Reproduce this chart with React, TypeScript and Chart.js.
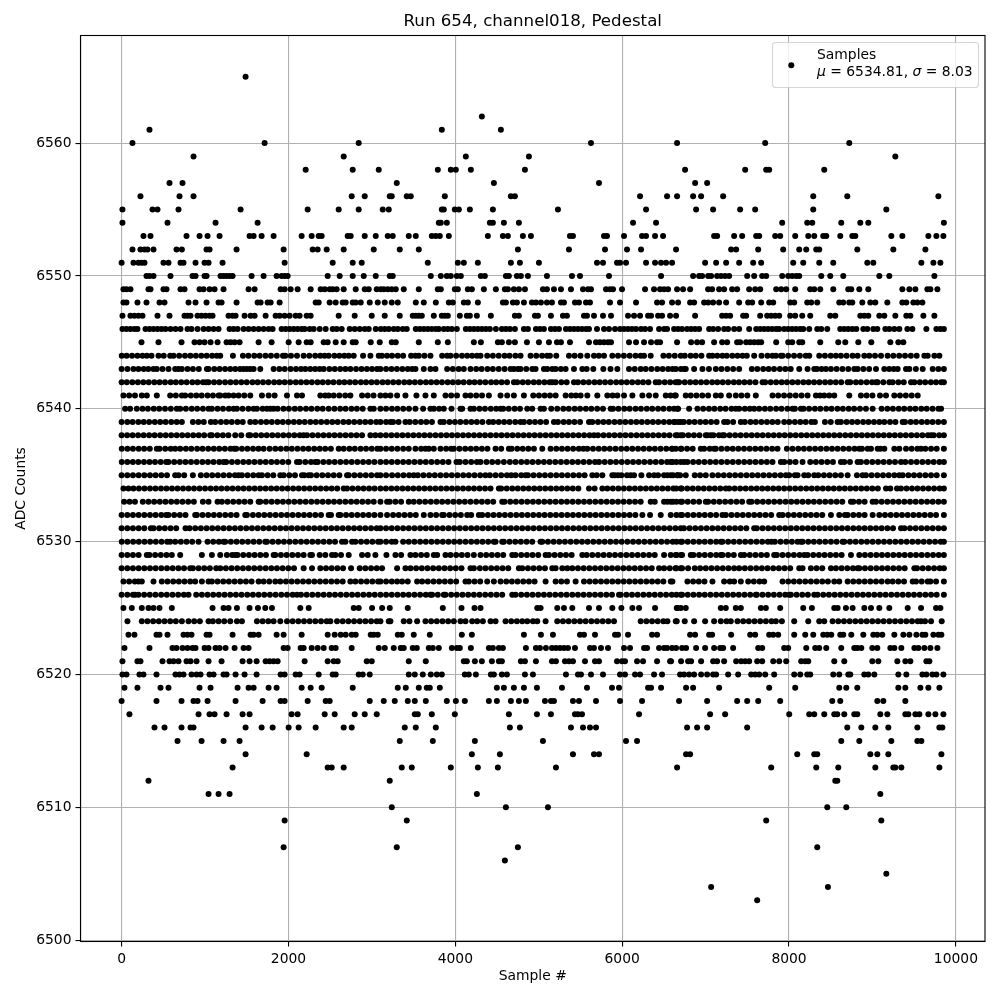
import React, { useEffect, useRef } from "react";
import { Chart, registerables } from "chart.js";

Chart.register(...registerables);

const titleText = "Run 654, channel018, Pedestal";
const xAxisLabel = "Sample #";
const yAxisLabel = "ADC Counts";
const legendName = "Samples";
const xTicks = [0, 2000, 4000, 6000, 8000, 10000];
const yTicks = [6500, 6510, 6520, 6530, 6540, 6550, 6560];

const a6565 = [1486];
const a6562 = [4318];
const a6561 = [334, 3838, 4546];
const a6560 = [130, 1714, 2842, 5626, 6658, 7714, 8722];
const a6559 = [862, 2662, 4126, 4882, 9274];
const a6558 = [2206, 2770, 3082, 3790, 3946, 4006, 4186, 4834, 6754, 7474, 7726, 7762, 8422];
const a6557 = [574, 730, 3298, 4462, 5722, 6874, 7018];
const a6556 = [226, 694, 862, 2758, 2914, 3214, 3238, 3418, 3466, 3874, 4666, 4714, 6214, 6538, 6658, 6850, 6946, 7210, 8290, 8698, 9790];
const a6555 = [10, 370, 430, 682, 1426, 2230, 2602, 2842, 3130, 3202, 3838, 3862, 3994, 4042, 4174, 4450, 5230, 6286, 6886, 7090, 7414, 7594, 8290, 9166];
const a6554 = [10, 550, 1126, 1630, 3802, 3826, 3898, 4414, 4450, 4582, 4762, 6130, 6406, 7918, 8218, 8278, 8626, 8854, 8950, 9856];
const a6553 = [262, 346, 778, 934, 1030, 1174, 1534, 1582, 1678, 1822, 2158, 2278, 2362, 2398, 2710, 2746, 2914, 3046, 3190, 3250, 3442, 3526, 3718, 3766, 3814, 3922, 4390, 4570, 4630, 4810, 4906, 5374, 5410, 5782, 5818, 6022, 6238, 6286, 6394, 6490, 7102, 7138, 7342, 7438, 7606, 7642, 7834, 7894, 8074, 8230, 8302, 8410, 8446, 8614, 8758, 8794, 9226, 9358, 9670, 9766, 9850];
const a6552 = [130, 226, 274, 310, 382, 658, 722, 1018, 1054, 1378, 1942, 2290, 2350, 2458, 2662, 3022, 3334, 3562, 4750, 5362, 5794, 6058, 6226, 6646, 7306, 7366, 7630, 7930, 8122, 8206, 8326, 8362, 8818, 9250, 9634];
const a6551 = [0, 142, 202, 238, 274, 502, 562, 706, 742, 886, 994, 1042, 1210, 1954, 2530, 2770, 2878, 3670, 4030, 4102, 4270, 4666, 4774, 5002, 5698, 5770, 5938, 5974, 6046, 6286, 6394, 6466, 6526, 6598, 6994, 7126, 7246, 7402, 7570, 7666, 8050, 8170, 8362, 8530, 8938, 9010, 9586, 9730, 9814];
const a6550 = [298, 334, 382, 586, 850, 886, 994, 1018, 1186, 1222, 1258, 1294, 1330, 1558, 1702, 1858, 1918, 1954, 1990, 2470, 2614, 2770, 2902, 3046, 3214, 3250, 3706, 3826, 3898, 3946, 4018, 4066, 4306, 4354, 4606, 4642, 4738, 4786, 4870, 5098, 5398, 5494, 5842, 6466, 6850, 6922, 6958, 7030, 7066, 7138, 7186, 7234, 7282, 7498, 7582, 7678, 7726, 7918, 7990, 8038, 8086, 8122, 8386, 8494, 8650, 9082, 9202, 9742];
const a6549 = [22, 58, 106, 322, 346, 502, 538, 706, 754, 934, 982, 1054, 1114, 1222, 1522, 1594, 1906, 1954, 2026, 2110, 2266, 2386, 2434, 2494, 2530, 2578, 2662, 2806, 2914, 2962, 3058, 3106, 3142, 3190, 3238, 3286, 3382, 3562, 3790, 3826, 3994, 4030, 4150, 4198, 4342, 4486, 4594, 4630, 4702, 4762, 4834, 5050, 5098, 5182, 5266, 5386, 5530, 5590, 5626, 5806, 5854, 5890, 5998, 6274, 6382, 6454, 6502, 6550, 6658, 6730, 6814, 7030, 7078, 7162, 7222, 7318, 7378, 7522, 7594, 7654, 7846, 7906, 7966, 8074, 8254, 8302, 8374, 8530, 8710, 8746, 8842, 8950, 9358, 9442, 9514, 9658, 9694, 9778];
const a6548 = [22, 58, 190, 298, 454, 514, 802, 886, 1018, 1162, 1198, 1378, 1630, 1666, 1750, 1786, 1894, 2326, 2362, 2494, 2566, 2650, 2686, 2770, 2806, 2866, 2974, 3070, 3154, 3238, 3310, 3526, 3622, 3766, 3922, 3970, 4102, 4150, 4270, 4570, 4606, 4690, 4738, 4822, 4918, 4966, 5026, 5098, 5158, 5266, 5302, 5434, 5482, 5566, 5614, 5854, 5974, 6166, 6418, 6478, 6598, 6670, 6814, 6862, 6982, 7030, 7090, 7162, 7246, 7402, 7510, 7558, 7666, 7762, 7810, 8014, 8062, 8218, 8266, 8338, 8602, 8650, 8722, 8758, 8878, 8974, 9034, 9178, 9358, 9406, 9490, 9538, 9598];
const a6547 = [10, 106, 154, 202, 250, 430, 574, 754, 790, 826, 910, 958, 1006, 1054, 1090, 1282, 1330, 1366, 1474, 1546, 1594, 1726, 1846, 1894, 1954, 2014, 2086, 2134, 2218, 2266, 2602, 2794, 2998, 3154, 3334, 3490, 3526, 3562, 3598, 3742, 3838, 3874, 3910, 4054, 4138, 4174, 4258, 4426, 4714, 4762, 4954, 4990, 5146, 5290, 5338, 5542, 5578, 5662, 5770, 5866, 6070, 6142, 6214, 6310, 6346, 6430, 6478, 6574, 6646, 6874, 7198, 7246, 7294, 7450, 7486, 7654, 7738, 7786, 7834, 7882, 8014, 8074, 8158, 8254, 8494, 8554, 8854, 8902, 8950, 9082, 9142, 9274, 9406, 9454, 9610, 9742];
const a6546 = [10, 58, 106, 154, 190, 286, 334, 382, 430, 478, 526, 586, 646, 706, 790, 838, 910, 982, 1042, 1102, 1162, 1294, 1342, 1390, 1462, 1522, 1582, 1642, 1702, 1762, 1810, 1918, 1966, 2014, 2062, 2110, 2158, 2194, 2254, 2302, 2374, 2446, 2530, 2578, 2638, 2734, 2794, 2854, 2914, 2962, 3046, 3106, 3154, 3202, 3262, 3310, 3370, 3418, 3526, 3574, 3622, 3670, 3718, 3766, 3802, 3862, 3910, 3958, 4018, 4126, 4174, 4222, 4270, 4318, 4366, 4414, 4486, 4558, 4606, 4654, 4714, 4822, 4870, 4966, 5014, 5062, 5146, 5194, 5242, 5326, 5374, 5422, 5470, 5518, 5566, 5602, 5698, 5782, 5842, 5914, 5974, 6022, 6070, 6118, 6166, 6226, 6274, 6334, 6442, 6502, 6538, 6622, 6670, 6718, 6778, 6826, 6874, 6922, 7042, 7090, 7150, 7222, 7270, 7342, 7402, 7522, 7606, 7654, 7702, 7750, 7798, 7846, 7882, 7942, 7990, 8038, 8086, 8134, 8170, 8242, 8338, 8386, 8458, 8614, 8662, 8710, 8758, 8806, 8890, 8938, 9010, 9058, 9154, 9202, 9262, 9322, 9418, 9478, 9646, 9766, 9814, 9856];
const a6545 = [238, 442, 718, 874, 934, 994, 1066, 1150, 1258, 1306, 1354, 1414, 1642, 1798, 2002, 2122, 2218, 2266, 2422, 2470, 2566, 2662, 2770, 2806, 2986, 3094, 3238, 3286, 3562, 3790, 3910, 4222, 4306, 4510, 4558, 4642, 4714, 4858, 5002, 5122, 5218, 5266, 5374, 5602, 5686, 5734, 5782, 5830, 5866, 6082, 6166, 6262, 6346, 6418, 6454, 6658, 6826, 6898, 6958, 7102, 7198, 7258, 7378, 7414, 7486, 7534, 7582, 7630, 7666, 7846, 7990, 8038, 8122, 8158, 8374, 8590, 8674, 8830, 8986, 9214, 9310, 9370];
const a6544 = [2, 60, 125, 190, 250, 302, 358, 442, 505, 582, 622, 690, 760, 825, 890, 955, 1020, 1085, 1140, 1182, 1334, 1454, 1520, 1590, 1655, 1725, 1790, 1860, 1934, 1962, 2030, 2102, 2182, 2250, 2320, 2382, 2434, 2482, 2550, 2610, 2670, 2722, 2782, 2894, 2982, 3082, 3120, 3182, 3242, 3310, 3374, 3470, 3522, 3562, 3630, 3702, 3842, 3902, 3942, 4010, 4080, 4142, 4202, 4260, 4302, 4382, 4450, 4520, 4590, 4650, 4720, 4782, 4902, 4970, 5040, 5100, 5134, 5210, 5362, 5430, 5500, 5582, 5662, 5720, 5782, 5882, 5950, 6020, 6090, 6160, 6222, 6262, 6342, 6494, 6560, 6630, 6702, 6750, 6820, 6882, 6950, 7042, 7082, 7140, 7202, 7254, 7320, 7382, 7442, 7494, 7582, 7670, 7742, 7802, 7842, 7902, 7922, 7990, 8060, 8130, 8200, 8242, 8362, 8430, 8500, 8562, 8622, 8690, 8762, 8822, 8902, 8962, 9030, 9102, 9182, 9250, 9320, 9390, 9460, 9530, 9622, 9662, 9742, 9802];
const a6543 = [0, 70, 142, 202, 265, 320, 382, 422, 490, 562, 642, 682, 722, 790, 855, 925, 1022, 1042, 1110, 1175, 1240, 1302, 1362, 1420, 1462, 1502, 1542, 1582, 1662, 1822, 1890, 1955, 2025, 2090, 2150, 2202, 2262, 2320, 2374, 2422, 2490, 2555, 2620, 2682, 2742, 2810, 2875, 2940, 3002, 3062, 3102, 3170, 3235, 3300, 3365, 3430, 3482, 3522, 3622, 3702, 3762, 3902, 3970, 4040, 4102, 4182, 4250, 4315, 4385, 4450, 4520, 4590, 4662, 4702, 4750, 4782, 4850, 4922, 4962, 5062, 5102, 5162, 5202, 5265, 5322, 5422, 5522, 5574, 5654, 5774, 5860, 5942, 6082, 6150, 6222, 6282, 6350, 6420, 6485, 6550, 6602, 6642, 6702, 6742, 6762, 6862, 6962, 7040, 7122, 7190, 7260, 7330, 7402, 7554, 7620, 7690, 7755, 7820, 7890, 7955, 8020, 8122, 8222, 8302, 8334, 8390, 8442, 8502, 8570, 8640, 8710, 8782, 8822, 8890, 8960, 9042, 9142, 9200, 9254, 9302, 9402, 9442, 9520, 9602, 9722, 9790, 9856];
const a6542 = [0, 62, 128, 195, 260, 325, 392, 455, 520, 588, 650, 715, 780, 848, 910, 975, 1014, 1042, 1108, 1172, 1240, 1305, 1370, 1435, 1500, 1568, 1630, 1695, 1760, 1828, 1890, 1955, 2020, 2088, 2150, 2215, 2280, 2348, 2410, 2475, 2540, 2608, 2670, 2735, 2800, 2868, 2930, 2995, 3060, 3128, 3190, 3255, 3320, 3388, 3450, 3515, 3580, 3648, 3710, 3775, 3840, 3908, 3970, 4035, 4100, 4168, 4230, 4295, 4360, 4428, 4490, 4555, 4620, 4702, 4742, 4808, 4872, 4940, 5002, 5068, 5130, 5162, 5202, 5270, 5335, 5422, 5470, 5535, 5600, 5668, 5730, 5795, 5860, 5928, 5990, 6055, 6120, 6188, 6250, 6315, 6402, 6442, 6510, 6575, 6640, 6662, 6682, 6750, 6815, 6880, 6945, 7010, 7078, 7140, 7205, 7270, 7338, 7400, 7465, 7530, 7598, 7682, 7714, 7780, 7845, 7912, 7975, 8040, 8105, 8172, 8235, 8300, 8365, 8432, 8495, 8560, 8625, 8702, 8734, 8802, 8862, 8930, 8995, 9042, 9062, 9130, 9202, 9242, 9310, 9375, 9462, 9502, 9568, 9632, 9700, 9762, 9825, 9856];
const a6541 = [22, 90, 160, 242, 302, 422, 582, 650, 722, 762, 830, 895, 960, 1030, 1095, 1162, 1182, 1242, 1282, 1342, 1402, 1470, 1542, 1682, 1762, 1834, 1982, 2102, 2162, 2382, 2440, 2482, 2542, 2610, 2680, 2742, 2882, 2950, 3020, 3102, 3162, 3222, 3302, 3402, 3534, 3642, 3742, 3882, 3950, 4020, 4122, 4182, 4250, 4320, 4402, 4542, 4622, 4702, 4822, 4934, 5002, 5070, 5135, 5202, 5322, 5390, 5445, 5502, 5582, 5702, 5822, 5885, 5942, 6022, 6122, 6242, 6322, 6402, 6522, 6580, 6642, 6630, 6762, 6822, 6890, 6960, 7030, 7122, 7182, 7282, 7362, 7430, 7500, 7602, 7802, 7870, 7940, 8010, 8080, 8150, 8222, 8322, 8372, 8422, 8482, 8542, 8722, 8862, 8930, 9000, 9090, 9162, 9262, 9330, 9400, 9470, 9542];
const a6540 = [42, 102, 182, 250, 315, 385, 450, 520, 590, 662, 702, 770, 840, 905, 975, 1042, 1082, 1150, 1215, 1285, 1342, 1382, 1450, 1520, 1582, 1622, 1690, 1742, 1782, 1822, 1870, 1940, 2005, 2075, 2140, 2210, 2275, 2345, 2410, 2482, 2550, 2620, 2685, 2755, 2820, 2890, 2982, 3022, 3102, 3170, 3240, 3305, 3375, 3445, 3522, 3614, 3702, 3742, 3805, 3862, 3954, 4062, 4082, 4182, 4222, 4290, 4355, 4425, 4490, 4542, 4574, 4640, 4710, 4775, 4862, 4922, 5022, 5062, 5150, 5222, 5294, 5360, 5430, 5495, 5565, 5630, 5700, 5770, 5862, 5890, 5955, 6025, 6090, 6160, 6225, 6295, 6360, 6430, 6495, 6565, 6622, 6662, 6670, 6802, 6902, 6970, 7040, 7105, 7175, 7240, 7310, 7362, 7402, 7470, 7530, 7582, 7642, 7710, 7775, 7845, 7910, 7980, 8042, 8070, 8142, 8174, 8240, 8310, 8375, 8445, 8510, 8580, 8645, 8715, 8780, 8850, 8922, 9002, 9110, 9178, 9245, 9315, 9380, 9450, 9515, 9585, 9650, 9720, 9790, 9822];
const a6539 = [0, 68, 132, 200, 265, 330, 398, 462, 528, 595, 660, 722, 854, 920, 985, 1070, 1122, 1190, 1255, 1320, 1388, 1452, 1542, 1602, 1670, 1735, 1800, 1868, 1932, 1998, 2065, 2130, 2195, 2262, 2328, 2392, 2460, 2525, 2590, 2658, 2722, 2788, 2855, 2920, 2985, 3052, 3102, 3170, 3222, 3254, 3320, 3402, 3454, 3520, 3588, 3652, 3720, 3822, 3862, 3930, 3995, 4060, 4128, 4192, 4258, 4325, 4402, 4454, 4520, 4585, 4650, 4718, 4782, 4822, 4890, 4955, 5020, 5088, 5182, 5230, 5298, 5362, 5428, 5495, 5602, 5642, 5710, 5775, 5840, 5908, 5972, 6038, 6105, 6170, 6235, 6302, 6368, 6432, 6500, 6565, 6630, 6702, 6622, 6670, 6738, 6802, 6868, 6935, 7000, 7065, 7132, 7222, 7262, 7330, 7422, 7470, 7538, 7602, 7668, 7735, 7800, 7865, 7942, 8002, 8070, 8135, 8200, 8268, 8310, 8430, 8500, 8582, 8622, 8690, 8755, 8820, 8888, 8952, 9018, 9082, 9142, 9210, 9275, 9362, 9390, 9458, 9522, 9590, 9655, 9720, 9788, 9856];
const a6538 = [0, 66, 132, 198, 264, 330, 396, 462, 528, 594, 660, 726, 792, 858, 924, 990, 1062, 1082, 1148, 1214, 1280, 1362, 1434, 1522, 1542, 1608, 1674, 1740, 1806, 1872, 1938, 2004, 2070, 2136, 2182, 2222, 2288, 2354, 2420, 2486, 2552, 2618, 2684, 2750, 2816, 2882, 2982, 3042, 3102, 3168, 3234, 3300, 3366, 3432, 3498, 3564, 3630, 3696, 3762, 3828, 3894, 3960, 4026, 4092, 4158, 4224, 4290, 4356, 4422, 4488, 4554, 4620, 4686, 4752, 4818, 4884, 4950, 5016, 5082, 5148, 5214, 5280, 5346, 5412, 5478, 5544, 5610, 5662, 5710, 5776, 5842, 5908, 5974, 6040, 6106, 6172, 6238, 6304, 6370, 6436, 6502, 6568, 6642, 6702, 6662, 6728, 6794, 6860, 6926, 7002, 7022, 7062, 7094, 7160, 7202, 7222, 7288, 7354, 7420, 7486, 7552, 7618, 7684, 7750, 7816, 7882, 7948, 8014, 8080, 8146, 8212, 8278, 8344, 8410, 8476, 8542, 8608, 8674, 8740, 8806, 8872, 8938, 9004, 9070, 9136, 9202, 9268, 9334, 9400, 9466, 9532, 9598, 9664, 9702, 9734, 9800, 9856];
const a6537 = [2, 70, 136, 205, 270, 338, 422, 454, 522, 588, 642, 702, 770, 835, 905, 970, 1038, 1105, 1170, 1238, 1305, 1350, 1374, 1442, 1508, 1575, 1640, 1702, 1774, 1842, 1908, 1975, 2040, 2108, 2175, 2240, 2308, 2375, 2440, 2508, 2602, 2662, 2730, 2795, 2865, 2930, 2998, 3065, 3102, 3170, 3238, 3305, 3375, 3442, 3522, 3590, 3642, 3682, 3742, 3822, 3890, 3950, 3982, 4050, 4118, 4185, 4250, 4318, 4385, 4482, 4550, 4642, 4674, 4742, 4808, 4875, 4942, 5042, 5142, 5210, 5278, 5345, 5412, 5480, 5534, 5582, 5650, 5718, 5785, 5852, 5920, 5988, 6055, 6122, 6190, 6258, 6325, 6392, 6460, 6528, 6595, 6602, 6702, 6642, 6710, 6778, 6845, 6942, 6982, 7050, 7102, 7122, 7190, 7258, 7325, 7392, 7460, 7528, 7595, 7662, 7730, 7798, 7862, 7974, 8042, 8110, 8178, 8245, 8312, 8380, 8448, 8515, 8582, 8650, 8718, 8785, 8842, 8874, 8942, 8982, 9062, 9094, 9142, 9262, 9322, 9402, 9470, 9538, 9582, 9634, 9702, 9770, 9856];
const a6536 = [2, 68, 135, 200, 268, 335, 400, 468, 534, 562, 630, 698, 765, 832, 900, 968, 1035, 1102, 1170, 1222, 1254, 1322, 1390, 1458, 1525, 1592, 1660, 1728, 1795, 1862, 1930, 1998, 2102, 2134, 2202, 2270, 2322, 2350, 2418, 2486, 2554, 2622, 2690, 2758, 2826, 2894, 2962, 3030, 3102, 3170, 3238, 3306, 3374, 3442, 3510, 3578, 3646, 3714, 3782, 3850, 3918, 4014, 4054, 4122, 4190, 4258, 4302, 4374, 4442, 4510, 4582, 4654, 4722, 4790, 4858, 4926, 4994, 5062, 5130, 5198, 5266, 5334, 5402, 5470, 5538, 5606, 5674, 5722, 5790, 5858, 5926, 5994, 6062, 6130, 6198, 6266, 6334, 6402, 6470, 6538, 6606, 6702, 6582, 6650, 6742, 6782, 6850, 6918, 6986, 7054, 7122, 7190, 7258, 7326, 7394, 7462, 7530, 7598, 7666, 7734, 7802, 7902, 7942, 8010, 8078, 8162, 8254, 8322, 8390, 8458, 8526, 8622, 8662, 8730, 8822, 8862, 8930, 8998, 9066, 9134, 9202, 9270, 9342, 9394, 9462, 9530, 9598, 9666, 9734, 9802, 9856];
const a6535 = [0, 68, 136, 204, 272, 340, 408, 476, 544, 642, 682, 750, 854, 950, 1018, 1086, 1154, 1222, 1290, 1358, 1402, 1442, 1510, 1578, 1642, 1682, 1750, 1818, 1902, 1942, 2010, 2078, 2162, 2190, 2242, 2270, 2338, 2406, 2474, 2542, 2610, 2702, 2722, 2790, 2858, 2926, 2994, 3062, 3102, 3170, 3242, 3310, 3378, 3446, 3502, 3550, 3618, 3686, 3754, 3822, 3890, 3958, 4026, 4094, 4162, 4230, 4298, 4362, 4414, 4482, 4550, 4618, 4670, 4722, 4790, 4842, 4870, 4938, 5006, 5074, 5142, 5210, 5278, 5346, 5414, 5482, 5550, 5642, 5694, 5762, 5882, 5910, 5950, 5990, 6058, 6102, 6142, 6230, 6322, 6382, 6430, 6502, 6542, 6610, 6662, 6582, 6662, 6694, 6762, 6870, 6934, 7002, 7082, 7150, 7218, 7286, 7354, 7422, 7490, 7558, 7626, 7694, 7762, 7830, 7898, 7962, 8002, 8070, 8102, 8182, 8230, 8302, 8350, 8418, 8486, 8554, 8622, 8702, 8814, 8882, 8922, 8990, 9058, 9126, 9194, 9262, 9322, 9362, 9430, 9498, 9566, 9634, 9702, 9770, 9856];
const a6534 = [22, 82, 142, 208, 274, 340, 406, 472, 538, 604, 670, 736, 802, 868, 934, 1000, 1066, 1132, 1198, 1264, 1330, 1396, 1462, 1528, 1594, 1660, 1726, 1792, 1858, 1924, 1990, 2056, 2122, 2188, 2254, 2320, 2386, 2452, 2518, 2584, 2662, 2702, 2768, 2834, 2900, 2966, 3032, 3102, 3168, 3234, 3300, 3366, 3432, 3498, 3564, 3630, 3696, 3762, 3828, 3894, 3960, 4026, 4092, 4158, 4224, 4290, 4356, 4422, 4522, 4550, 4616, 4682, 4748, 4814, 4880, 4946, 5012, 5078, 5144, 5210, 5276, 5342, 5408, 5474, 5602, 5670, 5762, 5822, 5888, 5954, 6020, 6086, 6152, 6218, 6284, 6350, 6416, 6482, 6548, 6614, 6702, 6648, 6714, 6780, 6846, 6912, 6978, 7044, 7110, 7176, 7242, 7282, 7348, 7414, 7480, 7546, 7612, 7678, 7744, 7810, 7876, 7942, 8008, 8074, 8140, 8206, 8272, 8338, 8404, 8470, 8536, 8602, 8668, 8734, 8800, 8866, 8932, 8998, 9064, 9162, 9214, 9294, 9342, 9408, 9474, 9540, 9606, 9672, 9738, 9804, 9856];
const a6533 = [30, 95, 160, 254, 322, 390, 458, 526, 594, 662, 730, 798, 866, 974, 1042, 1150, 1202, 1270, 1338, 1406, 1474, 1542, 1642, 1662, 1730, 1798, 1866, 1934, 2002, 2070, 2138, 2206, 2274, 2342, 2410, 2478, 2546, 2614, 2682, 2750, 2818, 2886, 2954, 3022, 3102, 3182, 3214, 3282, 3350, 3442, 3502, 3570, 3638, 3706, 3774, 3842, 3910, 3978, 4046, 4114, 4182, 4250, 4318, 4386, 4454, 4562, 4590, 4658, 4726, 4794, 4862, 4930, 4998, 5066, 5134, 5202, 5270, 5338, 5406, 5474, 5542, 5610, 5678, 5746, 5814, 5882, 5950, 6018, 6086, 6154, 6222, 6342, 6390, 6502, 6542, 6610, 6702, 6582, 6650, 6718, 6786, 6854, 6922, 7002, 7030, 7098, 7166, 7234, 7302, 7370, 7438, 7522, 7550, 7618, 7686, 7754, 7822, 7890, 7958, 8026, 8094, 8162, 8230, 8298, 8366, 8434, 8502, 8570, 8638, 8742, 8770, 8838, 8906, 9002, 9042, 9110, 9178, 9246, 9314, 9382, 9450, 9518, 9586, 9654, 9722, 9790, 9856];
const a6532 = [0, 68, 136, 204, 272, 340, 408, 476, 534, 562, 630, 698, 766, 882, 902, 970, 1038, 1106, 1174, 1242, 1310, 1378, 1482, 1502, 1574, 1642, 1710, 1778, 1846, 1914, 1982, 2050, 2118, 2186, 2254, 2322, 2390, 2482, 2510, 2602, 2622, 2690, 2758, 2826, 2894, 2962, 3030, 3102, 3182, 3254, 3322, 3390, 3458, 3526, 3622, 3702, 3770, 3842, 3862, 3930, 3998, 4066, 4142, 4190, 4282, 4322, 4390, 4458, 4526, 4594, 4662, 4730, 4798, 4866, 4934, 5002, 5070, 5138, 5206, 5274, 5342, 5410, 5478, 5546, 5614, 5682, 5750, 5818, 5886, 5954, 6022, 6090, 6158, 6242, 6334, 6462, 6582, 6702, 6650, 6718, 6786, 6854, 6922, 6990, 7058, 7126, 7202, 7242, 7310, 7378, 7446, 7514, 7582, 7650, 7718, 7786, 7882, 7922, 7990, 8058, 8126, 8194, 8262, 8330, 8398, 8502, 8602, 8670, 8702, 8770, 8838, 8906, 9002, 9082, 9150, 9218, 9286, 9354, 9422, 9490, 9558, 9626, 9694, 9762, 9856];
const a6531 = [0, 68, 136, 204, 272, 350, 382, 450, 518, 586, 654, 766, 814, 882, 950, 1018, 1086, 1154, 1222, 1290, 1358, 1426, 1494, 1562, 1630, 1698, 1766, 1834, 1902, 1970, 2038, 2106, 2174, 2242, 2310, 2378, 2446, 2514, 2582, 2650, 2718, 2786, 2854, 2922, 2990, 3058, 3102, 3170, 3238, 3306, 3374, 3442, 3510, 3578, 3646, 3714, 3782, 3850, 3918, 3986, 4054, 4122, 4190, 4258, 4326, 4394, 4462, 4530, 4598, 4666, 4734, 4802, 4870, 4938, 5006, 5074, 5142, 5210, 5278, 5346, 5414, 5482, 5550, 5618, 5686, 5754, 5822, 5890, 5958, 6026, 6094, 6162, 6230, 6298, 6366, 6434, 6502, 6570, 6638, 6702, 6740, 6808, 6876, 6944, 7012, 7080, 7148, 7216, 7284, 7352, 7420, 7488, 7582, 7614, 7682, 7750, 7818, 7886, 7954, 8022, 8090, 8158, 8226, 8294, 8362, 8430, 8498, 8566, 8634, 8702, 8770, 8838, 8906, 8974, 9042, 9110, 9178, 9246, 9342, 9382, 9450, 9518, 9586, 9654, 9722, 9790, 9856];
const a6530 = [2, 70, 138, 206, 274, 342, 410, 478, 546, 582, 642, 710, 778, 846, 922, 1030, 1098, 1166, 1222, 1242, 1310, 1378, 1446, 1514, 1582, 1650, 1722, 1742, 1810, 1878, 1946, 2014, 2082, 2150, 2218, 2286, 2354, 2422, 2490, 2558, 2642, 2682, 2762, 2802, 2870, 2938, 3006, 3074, 3102, 3170, 3238, 3282, 3374, 3442, 3510, 3578, 3646, 3714, 3782, 3850, 3918, 3986, 4054, 4122, 4190, 4258, 4326, 4394, 4462, 4482, 4562, 4582, 4650, 4718, 4786, 4854, 4922, 5022, 5042, 5110, 5178, 5246, 5314, 5382, 5450, 5518, 5586, 5654, 5722, 5790, 5858, 5926, 5994, 6062, 6130, 6198, 6266, 6334, 6402, 6470, 6538, 6606, 6702, 6650, 6718, 6786, 6854, 6922, 6990, 7058, 7126, 7182, 7202, 7270, 7338, 7406, 7474, 7542, 7610, 7678, 7746, 7790, 7830, 7898, 7966, 8034, 8102, 8142, 8162, 8230, 8298, 8366, 8434, 8502, 8570, 8642, 8662, 8730, 8798, 8866, 8934, 9002, 9070, 9138, 9206, 9274, 9342, 9410, 9478, 9546, 9614, 9682, 9750, 9818, 9856];
const a6529 = [0, 68, 136, 204, 302, 334, 402, 470, 538, 602, 702, 962, 1082, 1182, 1262, 1325, 1362, 1390, 1458, 1526, 1594, 1662, 1730, 1822, 1842, 1910, 1978, 2046, 2114, 2182, 2262, 2282, 2374, 2442, 2522, 2562, 2630, 2722, 2882, 2950, 3042, 3174, 3282, 3350, 3462, 3522, 3590, 3658, 3742, 3782, 3882, 3942, 4010, 4078, 4146, 4222, 4302, 4370, 4438, 4506, 4574, 4682, 4722, 4790, 4858, 4926, 4994, 5082, 5122, 5190, 5258, 5326, 5394, 5522, 5574, 5642, 5710, 5778, 5846, 5914, 5982, 6050, 6118, 6186, 6254, 6322, 6390, 6502, 6582, 6642, 6702, 6650, 6718, 6822, 6854, 6922, 6990, 7058, 7126, 7182, 7202, 7270, 7338, 7422, 7462, 7530, 7598, 7666, 7734, 7822, 7854, 7922, 7990, 8058, 8126, 8182, 8222, 8290, 8358, 8426, 8494, 8562, 8630, 8742, 8842, 8910, 8978, 9046, 9114, 9182, 9250, 9318, 9386, 9454, 9522, 9590, 9658, 9726, 9794, 9856];
const a6528 = [0, 68, 136, 204, 272, 340, 408, 476, 544, 612, 680, 748, 822, 854, 922, 990, 1058, 1134, 1182, 1250, 1318, 1386, 1454, 1522, 1590, 1658, 1726, 1794, 1862, 1930, 1998, 2066, 2182, 2282, 2382, 2450, 2518, 2586, 2654, 2750, 2854, 2922, 2990, 3058, 3122, 3302, 3402, 3462, 3530, 3598, 3666, 3734, 3802, 3870, 3938, 4006, 4074, 4182, 4222, 4294, 4362, 4430, 4498, 4566, 4634, 4762, 4802, 4870, 4938, 5006, 5074, 5162, 5202, 5282, 5342, 5402, 5470, 5538, 5606, 5674, 5742, 5810, 5878, 5946, 6014, 6082, 6150, 6218, 6286, 6354, 6442, 6502, 6570, 6638, 6702, 6650, 6718, 6790, 6870, 6934, 7002, 7070, 7138, 7206, 7274, 7342, 7402, 7470, 7538, 7606, 7674, 7742, 7810, 7878, 7946, 8014, 8122, 8162, 8262, 8330, 8398, 8502, 8562, 8630, 8698, 8766, 8822, 8842, 8910, 8978, 9046, 9114, 9182, 9250, 9318, 9386, 9502, 9534, 9602, 9670, 9738, 9806, 9856];
const a6527 = [22, 90, 158, 202, 242, 382, 482, 550, 618, 686, 754, 822, 882, 962, 1042, 1082, 1150, 1218, 1286, 1354, 1422, 1490, 1558, 1642, 1702, 1770, 1842, 1902, 1970, 2038, 2106, 2174, 2242, 2310, 2378, 2446, 2514, 2582, 2650, 2742, 2802, 2870, 2938, 3006, 3074, 3102, 3170, 3238, 3302, 3362, 3430, 3542, 3602, 3670, 3738, 3806, 3874, 3942, 4010, 4122, 4162, 4230, 4298, 4382, 4462, 4542, 4610, 4678, 4746, 4814, 4882, 4950, 5082, 5202, 5270, 5338, 5442, 5542, 5610, 5678, 5746, 5814, 5882, 5950, 6018, 6086, 6154, 6222, 6290, 6358, 6426, 6494, 6602, 6582, 6782, 6850, 6918, 6986, 7082, 7222, 7290, 7342, 7422, 7510, 7578, 7646, 7702, 7922, 7990, 8058, 8126, 8194, 8262, 8330, 8398, 8466, 8542, 8602, 8702, 8770, 8838, 8906, 8974, 9042, 9110, 9182, 9242, 9310, 9378, 9482, 9522, 9590, 9662, 9694, 9762, 9856];
const a6526 = [0, 68, 136, 162, 202, 270, 338, 406, 474, 542, 610, 678, 746, 802, 894, 962, 1030, 1098, 1166, 1234, 1302, 1370, 1438, 1506, 1574, 1642, 1710, 1778, 1846, 1914, 1982, 2050, 2102, 2150, 2218, 2286, 2354, 2422, 2490, 2558, 2626, 2694, 2762, 2830, 2898, 2966, 3034, 3102, 3170, 3238, 3306, 3374, 3442, 3510, 3578, 3646, 3702, 3722, 3790, 3862, 3882, 3950, 4018, 4086, 4154, 4222, 4290, 4358, 4426, 4494, 4562, 4682, 4722, 4790, 4858, 4926, 4994, 5062, 5130, 5198, 5266, 5334, 5402, 5470, 5538, 5606, 5674, 5742, 5810, 5878, 5962, 5982, 6050, 6118, 6186, 6254, 6322, 6390, 6458, 6526, 6594, 6702, 6650, 6718, 6786, 6854, 6922, 6990, 7058, 7126, 7194, 7262, 7330, 7398, 7466, 7534, 7602, 7614, 7682, 7750, 7818, 7886, 7954, 8002, 8022, 8090, 8158, 8226, 8302, 8342, 8410, 8478, 8546, 8614, 8682, 8750, 8818, 8886, 8954, 9022, 9090, 9158, 9226, 9294, 9362, 9430, 9498, 9566, 9634, 9702, 9770, 9856];
const a6525 = [22, 122, 242, 322, 382, 454, 602, 1090, 1222, 1282, 1382, 1534, 1634, 1722, 1802, 2142, 2242, 2782, 2842, 3002, 3122, 3214, 3430, 3850, 4074, 4230, 4302, 4982, 5022, 5222, 5302, 5402, 5602, 5722, 5882, 5990, 6122, 6202, 6394, 6662, 6654, 6702, 6762, 7182, 7242, 7362, 7422, 7662, 7722, 7894, 8170, 8274, 8542, 8582, 8682, 8762, 8902, 8982, 9082, 9202, 9422, 9582, 9762, 9814];
const a6524 = [70, 242, 310, 378, 446, 514, 582, 650, 722, 802, 870, 938, 1042, 1094, 1162, 1230, 1302, 1382, 1442, 1622, 1690, 1758, 1822, 1902, 1982, 2050, 2118, 2186, 2254, 2322, 2390, 2458, 2502, 2582, 2650, 2718, 2786, 2854, 2922, 2990, 3058, 3102, 3202, 3222, 3382, 3450, 3542, 3642, 3710, 3778, 3846, 3914, 3982, 4062, 4122, 4202, 4262, 4330, 4422, 4482, 4602, 4670, 4738, 4802, 4862, 4930, 4982, 5082, 5222, 5290, 5358, 5426, 5494, 5562, 5630, 5698, 5766, 5834, 5902, 6222, 6290, 6358, 6426, 6494, 6542, 6642, 6654, 6750, 6862, 6994, 7102, 7182, 7250, 7302, 7382, 7450, 7518, 7586, 7654, 7722, 7790, 7842, 7914, 8062, 8230, 8362, 8422, 8522, 8590, 8658, 8726, 8794, 8862, 8930, 8998, 9066, 9134, 9202, 9270, 9338, 9406, 9474, 9542, 9582, 9630, 9702, 9830];
const a6523 = [82, 154, 418, 454, 550, 742, 790, 838, 1018, 1054, 1330, 1546, 1582, 1642, 1858, 1942, 2158, 2470, 2554, 2626, 2686, 2758, 2806, 2986, 3022, 3070, 3310, 3358, 3502, 3694, 4078, 4198, 4822, 5026, 5170, 5494, 5542, 5674, 5914, 5950, 6070, 6358, 6418, 6814, 6874, 7042, 7078, 7306, 7534, 7594, 7762, 7810, 7870, 8062, 8194, 8290, 8410, 8458, 8506, 8614, 8650, 8746, 8890, 9010, 9058, 9118, 9262, 9370, 9442, 9526, 9598, 9634, 9730, 9790, 9826];
const a6522 = [34, 334, 610, 658, 730, 790, 850, 886, 994, 1042, 1126, 1174, 1246, 1354, 1462, 1522, 1942, 1990, 2146, 2182, 2278, 2350, 2422, 2518, 2566, 2758, 3082, 3154, 3262, 3346, 3382, 3490, 3538, 3682, 3730, 3802, 3958, 4018, 4054, 4186, 4402, 4450, 4522, 4570, 4846, 4966, 5014, 5086, 5158, 5206, 5254, 5302, 5350, 5434, 5614, 5662, 5746, 5830, 6022, 6094, 6262, 6298, 6442, 6502, 6538, 6598, 6646, 6718, 6766, 6886, 6994, 7102, 7174, 7210, 7330, 7630, 7678, 7942, 7990, 8206, 8314, 8362, 8446, 8626, 8782, 8818, 8866, 8998, 9058, 9214, 9262, 9346, 9502, 9550, 9622, 9694, 9778];
const a6521 = [10, 190, 226, 490, 574, 622, 682, 778, 826, 898, 1042, 1198, 1450, 1534, 1618, 1726, 1774, 1822, 1870, 2194, 2470, 2542, 2590, 2938, 2998, 3442, 3646, 4102, 4138, 4234, 4318, 4438, 4522, 4558, 4786, 4834, 4966, 5158, 5206, 5314, 5362, 5410, 5554, 5674, 5722, 5938, 5998, 6034, 6178, 6250, 6418, 6574, 6586, 6706, 6790, 6826, 6946, 7090, 7138, 7222, 7366, 7426, 7474, 7522, 7618, 7678, 7810, 7882, 7966, 8146, 8194, 8230, 8542, 8662, 8998, 9070, 9298, 9394, 9454, 9646, 9682];
const a6520 = [10, 58, 214, 262, 418, 646, 694, 742, 838, 898, 946, 1054, 1102, 1222, 1258, 1366, 1474, 1618, 1906, 1954, 2086, 2134, 2362, 2530, 2566, 2842, 2890, 2974, 3442, 3514, 3610, 3706, 3778, 3838, 4114, 4162, 4246, 4426, 4462, 4558, 4618, 4834, 4930, 5326, 5470, 5506, 5626, 5770, 5974, 6034, 6154, 6214, 6382, 6478, 6694, 6742, 6802, 6862, 6946, 7018, 7090, 7126, 7270, 7390, 7546, 7594, 7642, 7714, 7822, 8062, 8134, 8218, 8254, 8530, 8602, 8710, 8734, 8902, 8950, 9022, 9310, 9406, 9598, 9646, 9718, 9766, 9850];
const a6519 = [34, 190, 466, 562, 934, 1066, 1390, 1522, 1582, 1762, 1858, 2158, 2266, 2398, 2770, 3310, 3406, 3562, 3658, 3694, 3814, 4498, 4582, 4702, 4822, 4978, 5278, 5578, 5878, 5962, 6310, 6346, 6466, 6766, 6850, 7162, 7762, 8074, 8602, 8686, 8818, 9310, 9394, 9574, 9670, 9802];
const a6518 = [0, 418, 718, 862, 910, 1030, 1366, 1690, 1906, 1954, 2230, 2446, 2494, 2974, 3142, 3274, 3430, 3514, 3646, 3898, 4006, 4114, 4402, 4498, 4666, 4762, 4846, 5074, 5146, 5182, 5410, 5482, 5686, 5974, 6238, 6682, 7018, 7378, 7498, 7630, 7894, 8518, 8614, 9058, 9130, 9394];
const a6517 = [94, 922, 1054, 1114, 1258, 1450, 1534, 2038, 2110, 2434, 2554, 2794, 2914, 3058, 3514, 3550, 3718, 3994, 4642, 4978, 5146, 5434, 5470, 5518, 6202, 7054, 7234, 8002, 8242, 8302, 8422, 8542, 8578, 8662, 8782, 8818, 9094, 9178, 9394, 9430, 9514, 9562, 9670, 9754, 9850];
const a6516 = [394, 514, 718, 826, 862, 1486, 1678, 1810, 2002, 2122, 2326, 2662, 2758, 3394, 3526, 3766, 4654, 4774, 5386, 5530, 5614, 5686, 6778, 6898, 7018, 7498, 8698, 8866, 9034, 9190, 9538, 9802, 9838];
const a6515 = [670, 958, 1222, 1414, 3334, 3730, 4234, 5050, 6046, 6178, 8626, 8842, 9226, 9538, 9586];
const a6514 = [1486, 2218, 4198, 4534, 5410, 5662, 5722, 6766, 6814, 8098, 8302, 8338, 8974, 9058, 9190, 9826];
const a6513 = [1330, 2470, 2518, 2662, 3358, 3478, 3946, 4270, 4510, 5206, 6658, 7786, 8326, 8590, 9034, 9250, 9274, 9346, 9802];
const a6512 = [322, 3214, 8554, 8578];
const a6511 = [1042, 1162, 1294, 4258, 9094];
const a6510 = [3238, 4606, 5110, 8458, 8686];
const a6509 = [1954, 3418, 7726, 9106];
const a6507 = [1942, 3298, 4750, 8338];
const a6506 = [4594];
const a6505 = [9166];
const a6504 = [7066, 8466];
const a6503 = [7618];

const rowLevels = [6565, 6562, 6561, 6560, 6559, 6558, 6557, 6556, 6555, 6554, 6553, 6552, 6551, 6550, 6549, 6548, 6547, 6546, 6545, 6544, 6543, 6542, 6541, 6540, 6539, 6538, 6537, 6536, 6535, 6534, 6533, 6532, 6531, 6530, 6529, 6528, 6527, 6526, 6525, 6524, 6523, 6522, 6521, 6520, 6519, 6518, 6517, 6516, 6515, 6514, 6513, 6512, 6511, 6510, 6509, 6507, 6506, 6505, 6504, 6503];
const rowSamples = [a6565, a6562, a6561, a6560, a6559, a6558, a6557, a6556, a6555, a6554, a6553, a6552, a6551, a6550, a6549, a6548, a6547, a6546, a6545, a6544, a6543, a6542, a6541, a6540, a6539, a6538, a6537, a6536, a6535, a6534, a6533, a6532, a6531, a6530, a6529, a6528, a6527, a6526, a6525, a6524, a6523, a6522, a6521, a6520, a6519, a6518, a6517, a6516, a6515, a6514, a6513, a6512, a6511, a6510, a6509, a6507, a6506, a6505, a6504, a6503];

const FONT = "'DejaVu Sans'";

const framePlugin = {
  id: "frame",
  afterDraw(chart: any) {
    const { ctx, chartArea: a } = chart;
    ctx.save();
    ctx.strokeStyle = "#000";
    ctx.lineWidth = 1.1;
    ctx.strokeRect(a.left, a.top, a.right - a.left, a.bottom - a.top);
    const bx = 772.5, by = 42.5, bw = 206, bh = 45, r = 3;
    ctx.beginPath();
    ctx.roundRect(bx, by, bw, bh, r);
    ctx.fillStyle = "rgba(255,255,255,0.8)";
    ctx.fill();
    ctx.strokeStyle = "rgba(204,204,204,0.8)";
    ctx.lineWidth = 1.1;
    ctx.stroke();
    ctx.fillStyle = "#000";
    ctx.beginPath();
    ctx.arc(791.3, 65.3, 3, 0, Math.PI * 2);
    ctx.fill();
    ctx.textBaseline = "alphabetic";
    ctx.textAlign = "left";
    const normal = `13.89px ${FONT}`;
    const italic = `italic 13.89px ${FONT}`;
    ctx.font = normal;
    ctx.fillText(legendName, 817, 59);
    let x = 817;
    const parts: [string, string][] = [["μ", italic], [" = 6534.81, ", normal], ["σ", italic], [" = 8.03", normal]];
    for (const [t, f] of parts) {
      ctx.font = f;
      ctx.fillText(t, x, 76);
      x += ctx.measureText(t).width;
    }
    ctx.restore();
  },
};

export default function App() {
  const ref = useRef<HTMLCanvasElement>(null);
  useEffect(() => {
    const points: { x: number; y: number }[] = [];
    rowLevels.forEach((lvl, i) => rowSamples[i].forEach((s) => points.push({ x: s, y: lvl })));
    const tickFont = { family: FONT, size: 13.89 };
    const chart = new Chart(ref.current!, {
      type: "scatter",
      data: {
        datasets: [
          {
            label: legendName,
            data: points,
            backgroundColor: "#000",
            borderColor: "#000",
            borderWidth: 0,
            pointRadius: 3,
          },
        ],
      },
      options: {
        animation: false,
        responsive: false,
        layout: { padding: { right: 15 } },
        plugins: {
          legend: { display: false },
          tooltip: { enabled: false },
          title: {
            display: true,
            text: titleText,
            color: "#000",
            fullSize: false,
            font: { family: FONT, size: 16.67, weight: "normal" },
            padding: { top: 12, bottom: 3.5 },
          },
        },
        scales: {
          x: {
            type: "linear",
            min: -492.8,
            max: 10348.8,
            afterFit: (s: any) => {
              s.height = 58.5;
              s.paddingLeft = 0;
              s.paddingRight = 0;
            },
            afterBuildTicks: (s: any) => {
              s.ticks = xTicks.map((value) => ({ value }));
            },
            title: { display: true, text: xAxisLabel, color: "#000", font: tickFont, padding: { top: 0, bottom: 15 } },
            border: { color: "#000", width: 1.1 },
            grid: { color: "#b0b0b0", lineWidth: 1.1, tickColor: "#000", tickLength: 5, tickWidth: 1.1 },
            ticks: {
              autoSkip: false,
              color: "#000",
              font: tickFont,
              padding: 5,
              maxRotation: 0,
              callback: (v: any) => String(v),
            },
          },
          y: {
            type: "linear",
            min: 6499.9,
            max: 6568.1,
            afterFit: (s: any) => {
              s.width = 80.5;
              s.paddingTop = 0;
              s.paddingBottom = 0;
            },
            afterBuildTicks: (s: any) => {
              s.ticks = yTicks.map((value) => ({ value }));
            },
            title: { display: true, text: yAxisLabel, color: "#000", font: tickFont, padding: { top: 12.7, bottom: 0 } },
            border: { color: "#000", width: 1.1 },
            grid: { color: "#b0b0b0", lineWidth: 1.1, tickColor: "#000", tickLength: 5, tickWidth: 1.1 },
            ticks: {
              autoSkip: false,
              color: "#000",
              font: tickFont,
              padding: 4,
              callback: (v: any) => String(v),
            },
          },
        },
      },
      plugins: [framePlugin],
    } as any);
    return () => chart.destroy();
  }, []);
  return (
    <canvas
      ref={ref}
      width={1000}
      height={1000}
      style={{ position: "fixed", left: 0, top: 0, display: "block", width: 1000, height: 1000 }}
    />
  );
}
